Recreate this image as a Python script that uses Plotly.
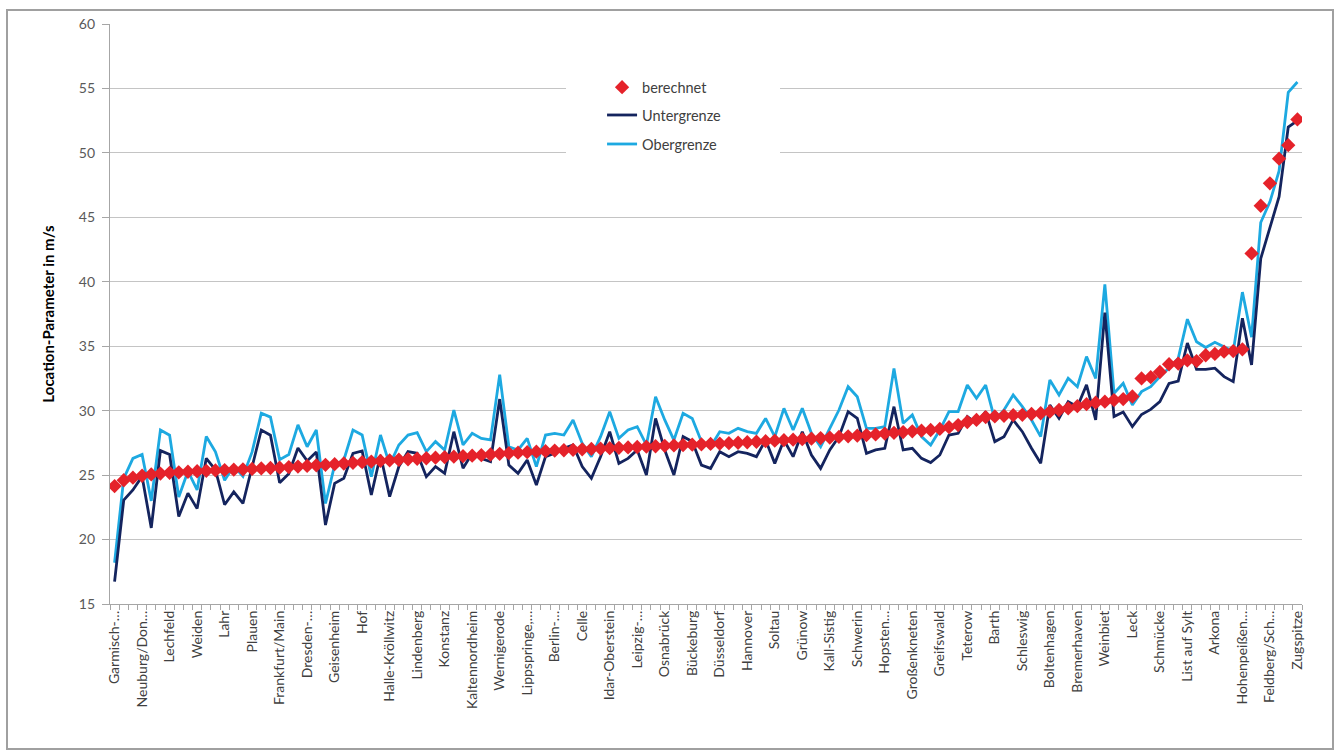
import plotly.graph_objects as go

# ---- data ----
tick_labels = ["Garmisch-…", "Neuburg/Don…", "Lechfeld", "Weiden", "Lahr", "Plauen",
               "Frankfurt/Main", "Dresden-…", "Geisenheim", "Hof", "Halle-Kröllwitz",
               "Lindenberg", "Konstanz", "Kaltennordheim", "Wernigerode", "Lippspringe,…",
               "Berlin-…", "Celle", "Idar-Oberstein", "Leipzig-…", "Osnabrück", "Bückeburg",
               "Düsseldorf", "Hannover", "Soltau", "Grünow", "Kall-Sistig", "Schwerin",
               "Hopsten…", "Großenkneten", "Greifswald", "Teterow", "Barth", "Schleswig",
               "Boltenhagen", "Bremerhaven", "Weinbiet", "Leck", "Schmücke", "List auf Sylt",
               "Arkona", "Hohenpeißen…", "Feldberg/Sch…", "Zugspitze"]
label_step = 3  # every third station is labelled

berechnet = [
    24.15, 24.6, 24.8, 24.95, 25.05, 25.12, 25.18, 25.22, 25.26, 25.3,
    25.33, 25.36, 25.39, 25.42, 25.45, 25.48, 25.52, 25.55, 25.58, 25.62,
    25.66, 25.71, 25.76, 25.8, 25.85, 25.9, 25.95, 26.0, 26.05, 26.1,
    26.15, 26.19, 26.23, 26.27, 26.31, 26.35, 26.39, 26.43, 26.47, 26.51,
    26.55, 26.6, 26.65, 26.7, 26.74, 26.78, 26.82, 26.86, 26.9, 26.93,
    26.96, 27.0, 27.03, 27.06, 27.09, 27.12, 27.15, 27.18, 27.21, 27.24,
    27.27, 27.3, 27.33, 27.36, 27.39, 27.42, 27.45, 27.48, 27.51, 27.55,
    27.59, 27.63, 27.67, 27.71, 27.75, 27.79, 27.83, 27.87, 27.91, 27.96,
    28.01, 28.06, 28.11, 28.16, 28.22, 28.28, 28.34, 28.4, 28.45, 28.5,
    28.58, 28.72, 28.88, 29.12, 29.28, 29.5, 29.55, 29.6, 29.65, 29.68,
    29.74, 29.8, 29.92, 30.05, 30.18, 30.35, 30.5, 30.62, 30.7, 30.82,
    30.9, 31.1, 32.5, 32.6, 33.0, 33.6, 33.65, 33.9, 33.85, 34.3,
    34.4, 34.58, 34.62, 34.76, 42.2, 45.9, 47.64, 49.55, 50.6, 52.6]

untergrenze = [
    16.73, 23.07, 23.85, 24.9, 20.9, 26.9, 26.6, 21.78, 23.6, 22.4,
    26.3, 25.4, 22.7, 23.7, 22.8, 25.65, 28.5, 28.1, 24.4, 25.1,
    27.1, 26.1, 26.8, 21.13, 24.36, 24.75, 26.69, 26.87, 23.46, 26.56,
    23.33, 25.66, 26.82, 26.69, 24.88, 25.66, 25.14, 28.37, 25.53, 26.69,
    26.3, 26.04, 30.9, 25.78, 25.14, 26.17, 24.23, 26.43, 26.69, 27.08,
    27.34, 25.66, 24.75, 26.43, 28.37, 25.91, 26.3, 26.95, 25.01, 29.4,
    26.95, 25.01, 27.98, 27.6, 25.78, 25.52, 26.82, 26.43, 26.82, 26.69,
    26.43, 27.72, 25.91, 27.72, 26.43, 28.37, 26.56, 25.52, 26.95, 27.98,
    29.92, 29.4, 26.69, 26.95, 27.08, 30.31, 26.95, 27.08, 26.3, 25.97,
    26.56, 28.11, 28.24, 29.54, 29.02, 29.93, 27.6, 27.98, 29.28, 28.37,
    27.08, 25.92, 30.44, 29.41, 30.7, 30.31, 32.0, 29.28, 37.6, 29.54,
    29.9, 28.76, 29.7, 30.1, 30.7, 32.12, 32.3, 35.25, 33.2, 33.2,
    33.3, 32.64, 32.25, 37.17, 33.55, 41.8, 44.3, 46.6, 52.0, 52.5]

obergrenze = [
    18.2, 24.75, 26.3, 26.6, 23.0, 28.5, 28.1, 23.3, 25.3, 23.85,
    28.0, 26.8, 24.6, 25.7, 24.9, 26.8, 29.8, 29.5, 26.2, 26.6,
    28.9, 27.2, 28.5, 22.8, 25.79, 26.17, 28.5, 28.11, 24.88, 28.11,
    25.79, 27.34, 28.11, 28.29, 26.82, 27.6, 26.95, 30.05, 27.34, 28.24,
    27.85, 27.73, 32.8, 27.2, 26.95, 27.85, 25.66, 28.11, 28.24, 28.11,
    29.28, 27.46, 26.43, 27.98, 29.92, 27.85, 28.5, 28.76, 27.34, 31.08,
    29.28, 27.72, 29.79, 29.4, 27.6, 27.2, 28.37, 28.24, 28.63, 28.37,
    28.24, 29.4, 27.98, 30.18, 28.5, 30.18, 28.24, 27.2, 28.63, 30.05,
    31.86, 31.08, 28.63, 28.63, 28.76, 33.28, 29.02, 29.67, 27.99, 27.34,
    28.5, 29.93, 29.93, 31.99, 30.96, 31.99, 29.28, 30.05, 31.22, 30.31,
    29.28, 27.99, 32.38, 31.22, 32.51, 31.86, 34.19, 32.5, 39.8, 31.35,
    32.12, 30.44, 31.48, 31.86, 32.64, 33.3, 34.06, 37.1, 35.35, 34.9,
    35.3, 34.95, 34.6, 39.2, 35.7, 44.6, 46.2, 48.6, 54.7, 55.5]

n = len(berechnet)
x = list(range(n))
tickvals = [i * label_step for i in range(len(tick_labels))]

FONT = "Lato, 'Open Sans', sans-serif"

fig = go.Figure()
fig.add_trace(go.Scatter(x=x, y=obergrenze, mode="lines", name="Obergrenze",
                         line=dict(color="#1DA9E1", width=2.8), legend="legend3",
                         showlegend=True))
fig.add_trace(go.Scatter(x=x, y=untergrenze, mode="lines", name="Untergrenze",
                         line=dict(color="#14245E", width=2.8), legend="legend2",
                         showlegend=True))
fig.add_trace(go.Scatter(x=x, y=berechnet, mode="markers", name="berechnet",
                         marker=dict(symbol="diamond", size=11, color="#E5222A"),
                         legend="legend", showlegend=True))

leg_common = dict(bgcolor="rgba(0,0,0,0)", borderwidth=0, xanchor="left", yanchor="middle",
                  font=dict(family=FONT, size=14.5, color="#404040"), itemwidth=30, visible=True)
fig.update_layout(
    width=1341, height=751,
    showlegend=True,
    margin=dict(l=110, r=39, t=24, b=147),
    paper_bgcolor="white", plot_bgcolor="white",
    font=dict(family=FONT, color="#595959"),
    legend=dict(x=0.4128, y=0.891, **leg_common),
    legend2=dict(x=0.4128, y=0.843, **leg_common),
    legend3=dict(x=0.4128, y=0.793, **leg_common),
    xaxis=dict(range=[-0.5, n - 0.5], tickmode="array", tickvals=tickvals,
               ticktext=tick_labels, tickangle=-90, ticks="", showgrid=False,
               showline=True, linecolor="#a6a6a6", linewidth=1.3, zeroline=False,
               tickfont=dict(family=FONT, size=14, color="#404040"),
               minor=dict(tickmode="linear", tick0=-0.5, dtick=1, ticks="outside",
                          ticklen=5, tickcolor="#a6a6a6", showgrid=False)),
    yaxis=dict(range=[15, 60], dtick=5, tick0=15, showgrid=True, gridcolor="#c4c4c4",
               gridwidth=1.3, showline=True, linecolor="#a6a6a6", linewidth=1.3,
               ticks="outside", ticklen=7, tickcolor="#a6a6a6", zeroline=False,
               ticklabelstandoff=4,
               tickfont=dict(family=FONT, size=14, color="#595959"),
               title=dict(text="<b>Location-Parameter in m/s</b>", standoff=20,
                          font=dict(family=FONT, size=15, color="#000000"))),
    shapes=[
        dict(type="rect", xref="paper", yref="paper", x0=(566 - 110) / 1192, x1=(780 - 110) / 1192,
             y0=(604 - 165) / 580, y1=(604 - 66) / 580, fillcolor="white",
             line=dict(width=0), layer="above"),
        dict(type="rect", xref="paper", yref="paper", x0=(7 - 110) / 1192, x1=(1333 - 110) / 1192,
             y0=(604 - 749) / 580, y1=(604 - 10) / 580, fillcolor="rgba(0,0,0,0)",
             line=dict(color="#a0a0a0", width=2), layer="above"),
    ],
)

fig.write_html("out.html", config={"displayModeBar": False},
               post_script="document.body.style.margin='0';")
